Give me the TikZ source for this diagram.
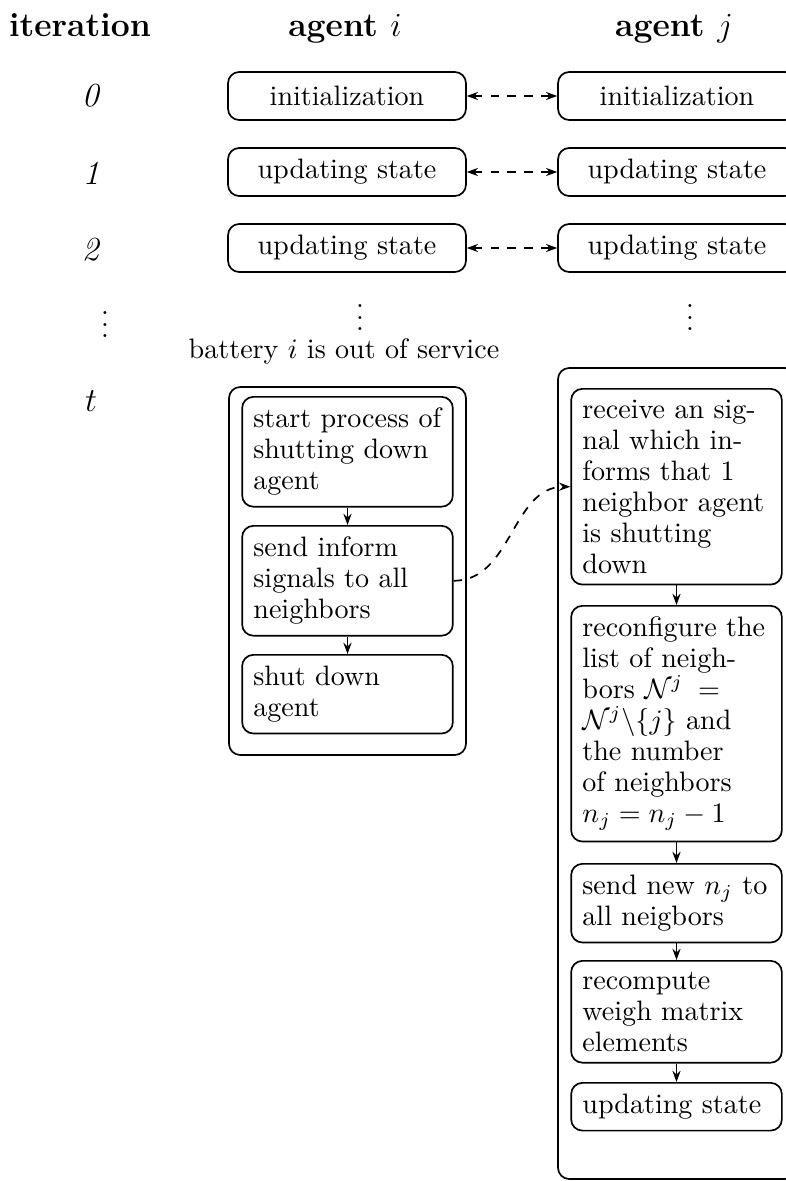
\documentclass[tikz,border=0pt]{standalone}
\usetikzlibrary{arrows.meta}
\begin{document}
\begin{tikzpicture}[x=0.356pt,y=-0.356pt,
  tip/.tip={Stealth[length=4pt,width=2.9pt]},
  rowbox/.style={draw,semithick,rounded corners,minimum width=84.7pt,minimum height=17.1pt,inner sep=4pt},
  stepbox/.style={draw,semithick,rounded corners,text width=67pt,inner sep=4pt,align=left,anchor=north,font=\fontsize{10}{11}\selectfont},
  outerbox/.style={draw,semithick,rounded corners},
  flow/.style={-tip,semithick},
  link/.style={tip-tip,dashed,semithick},
  head/.style={font=\large\bfseries,anchor=base,inner sep=0pt},
  iter/.style={font=\large,inner sep=0pt},
  dotsnode/.style={anchor=south,inner sep=0pt}]
\useasboundingbox (0,0) rectangle (786,1181);
% headers
\node[head] (hit) at (80,36) {iteration};
\node[head] (hai) at (345,36) {agent $i$};
\node[head] (haj) at (674,36) {agent $j$};
% iteration labels
\node[iter] (n0) at (91,96) {\textit{0}};
\node[iter] (n1) at (91,173) {\textit{1}};
\node[iter] (n2) at (91,250) {\textit{2}};
\node[dotsnode] (nd) at (105,338) {$\vdots$};
\node[iter] (nt) at (91,401) {$t$};
% rows
\node[rowbox] (i0) at (347,96) {initialization};
\node[rowbox] (j0) at (677,96) {initialization};
\node[rowbox] (i1) at (347,172) {updating state};
\node[rowbox] (j1) at (677,172) {updating state};
\node[rowbox] (i2) at (347,248) {updating state};
\node[rowbox] (j2) at (677,248) {updating state};
\draw[link] (i0) -- (j0);
\draw[link] (i1) -- (j1);
\draw[link] (i2) -- (j2);
\node[dotsnode] (id) at (360,331) {$\vdots$};
\node[dotsnode] (jd) at (690,331) {$\vdots$};
\node[anchor=base,inner sep=0pt] (bat) at (344,358) {battery $i$ is out of service};
% agent i at t
\node[stepbox] (a1) at (347.5,396) {start process of shutting down agent};
\node[stepbox] (a2) at (347.5,525) {send inform signals to all neighbors};
\node[stepbox] (a3) at (347.5,654) {shut down agent};
\draw[flow] (a1) -- (a2);
\draw[flow] (a2) -- (a3);
\draw[outerbox] (229,387) rectangle (466,755);
% agent j at t
\node[stepbox] (b1) at (676.5,388) {receive an signal which informs that 1 neighbor agent is shutting down};
\node[stepbox] (b2) at (676.5,605) {reconfigure the list of neighbors $\mathcal{N}^j = \mathcal{N}^j\backslash\{j\}$ and the number of neighbors $n_j = n_j - 1$};
\node[stepbox] (b3) at (676.5,863) {send new $n_j$ to all neigbors};
\node[stepbox] (b4) at (676.5,960) {recompute weigh matrix elements};
\node[stepbox] (b5) at (676.5,1082) {updating state};
\draw[flow] (b1) -- (b2);
\draw[flow] (b2) -- (b3);
\draw[flow] (b3) -- (b4);
\draw[flow] (b4) -- (b5);
\draw[outerbox] (558,368) rectangle (796,1179);
% signal
\draw[dashed,semithick,-tip] (a2.east) to[out=0,in=180] (b1.west);
\end{tikzpicture}
\end{document}
